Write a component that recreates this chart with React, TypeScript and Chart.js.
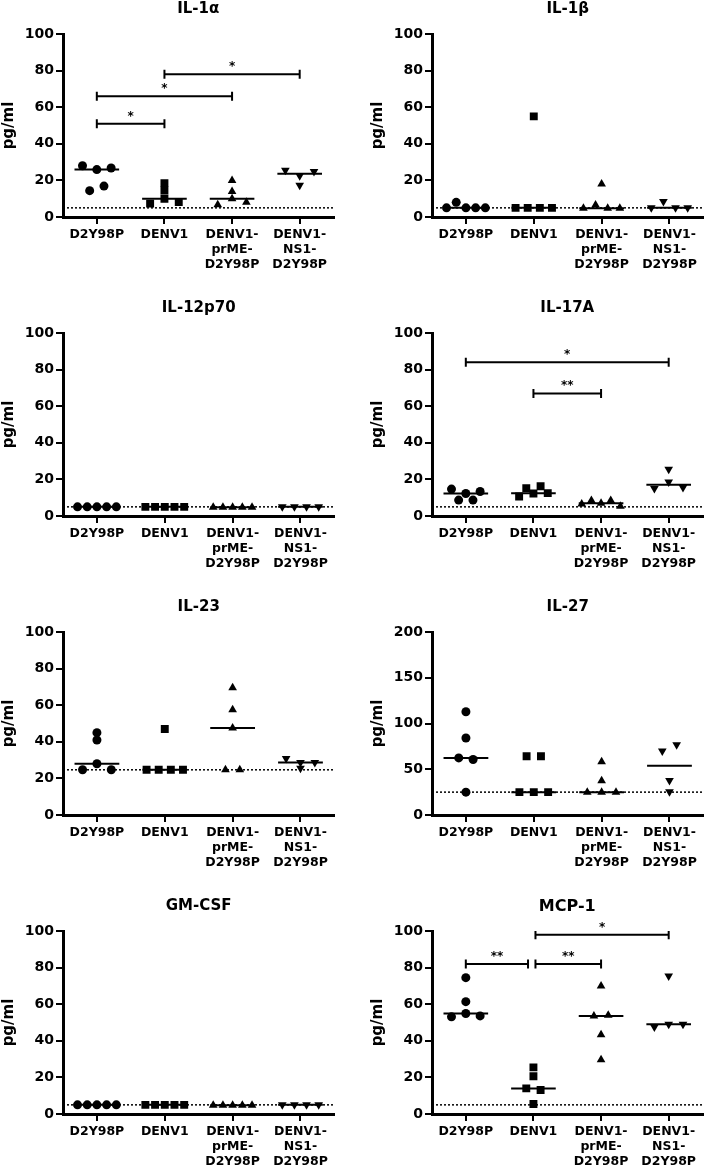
import React, { useEffect, useRef } from 'react';
import { Chart, registerables } from 'chart.js';

Chart.register(...registerables);

const FONT = '"DejaVu Sans", sans-serif';

// Category tick labels (multi-line)
const CATEGORY_LINES = [
  ['D2Y98P'],
  ['DENV1'],
  ['DENV1-', 'prME-', 'D2Y98P'],
  ['DENV1-', 'NS1-', 'D2Y98P'],
];

// ---------- IL-1α ----------
const il1a_D2Y98P = [28.0, 14.4, 25.9, 16.9, 26.8];
const il1a_DENV1 = [7.3, 18.5, 14.5, 10.0, 8.2];
const il1a_prME = [6.7, 19.9, 10.0, 14.0, 8.0];
const il1a_NS1 = [25.5, 22.5, 24.8, 17.3];
const il1a_limit = 5;
const il1a_sig = [
  { from: 1, to: 2, y: 51, label: '*' },
  { from: 1, to: 3, y: 66, label: '*' },
  { from: 2, to: 4, y: 78, label: '*' },
];

// ---------- IL-1β ----------
const il1b_D2Y98P = [5, 8, 5, 5, 5];
const il1b_DENV1 = [5, 5, 5, 5, 55];
const il1b_prME = [4.8, 6.5, 4.8, 4.8, 18];
const il1b_NS1 = [5, 8.5, 5, 5];
const il1b_limit = 5;
const il1b_sig: any[] = [];

// ---------- IL-12p70 ----------
const il12_D2Y98P = [5, 5, 5, 5, 5];
const il12_DENV1 = [5, 5, 5, 5, 5];
const il12_prME = [4.8, 4.8, 4.8, 4.8, 4.8];
const il12_NS1 = [5, 5, 5, 5];
const il12_limit = 5;
const il12_sig: any[] = [];

// ---------- IL-17A ----------
const il17_D2Y98P = [14.7, 8.7, 12.3, 13.4, 8.7];
const il17_DENV1 = [15.2, 10.7, 12.3, 16.3, 12.5];
const il17_prME = [6.6, 8.5, 6.9, 8.5, 5.3];
const il17_NS1 = [15.0, 25.5, 18.6, 15.6];
const il17_limit = 5;
const il17_sig = [
  { from: 1, to: 4, y: 84, label: '*' },
  { from: 2, to: 3, y: 67, label: '**' },
];

// ---------- IL-23 ----------
const il23_D2Y98P = [24.7, 45.0, 41.0, 28.0, 24.7];
const il23_DENV1 = [24.7, 24.7, 24.7, 24.7, 47.0];
const il23_prME = [69.5, 57.5, 47.5, 24.7, 24.7];
const il23_NS1 = [30.9, 28.7, 28.7, 25.5];
const il23_limit = 24.7;
const il23_sig: any[] = [];

// ---------- IL-27 ----------
const il27_D2Y98P = [112.8, 84.2, 62.4, 60.7, 25];
const il27_DENV1 = [64.2, 64.2, 25, 25, 25];
const il27_prME = [58.1, 37.4, 25, 25, 25];
const il27_NS1 = [69.9, 76.7, 37.7, 25.3];
const il27_limit = 25;
const il27_sig: any[] = [];

// ---------- GM-CSF ----------
const gmcsf_D2Y98P = [5, 5, 5, 5, 5];
const gmcsf_DENV1 = [5, 5, 5, 5, 5];
const gmcsf_prME = [4.8, 4.8, 4.8, 4.8, 4.8];
const gmcsf_NS1 = [5, 5, 5, 5];
const gmcsf_limit = 5;
const gmcsf_sig: any[] = [];

// ---------- MCP-1 ----------
const mcp1_D2Y98P = [74.5, 61.4, 53.1, 54.9, 53.6];
const mcp1_DENV1 = [25.5, 20.6, 14.0, 13.1, 5.5];
const mcp1_prME = [70.0, 53.6, 54.0, 43.3, 29.6];
const mcp1_NS1 = [75.4, 47.6, 49.1, 49.1];
const mcp1_limit = 5;
const mcp1_sig = [
  { from: 1, to: 1.92, y: 82, label: '**' },
  { from: 2.03, to: 3, y: 82, label: '**' },
  { from: 2.03, to: 4, y: 98, label: '*' },
];

// ---------- layout / style ----------
const CANVAS_W = 340;
const CANVAS_H = 299;
const COL_X = [0, 369];
const ROW_Y = [0, 299, 598, 897];
const PLOT_TOP = 34;
const PLOT_H = 183;
const Y_AXIS_W = 63;
const PX_PER_CAT = 274 / 4;
const MEDIAN_HALF = 0.33;

const MARKERS = [
  { style: 'circle', radius: 4.5, rotation: 0 },
  { style: 'rect', radius: 5.6, rotation: 0 },
  { style: 'triangle', radius: 5, rotation: 0 },
  { style: 'triangle', radius: 5, rotation: 180 },
];

const PANELS = [
  { title: 'IL-1α', titleSize: 15, yMax: 100, yStep: 20, limit: il1a_limit, groups: [il1a_D2Y98P, il1a_DENV1, il1a_prME, il1a_NS1], sig: il1a_sig, col: 0, row: 0 },
  { title: 'IL-1β', titleSize: 15, yMax: 100, yStep: 20, limit: il1b_limit, groups: [il1b_D2Y98P, il1b_DENV1, il1b_prME, il1b_NS1], sig: il1b_sig, col: 1, row: 0 },
  { title: 'IL-12p70', titleSize: 15, yMax: 100, yStep: 20, limit: il12_limit, groups: [il12_D2Y98P, il12_DENV1, il12_prME, il12_NS1], sig: il12_sig, col: 0, row: 1 },
  { title: 'IL-17A', titleSize: 15, yMax: 100, yStep: 20, limit: il17_limit, groups: [il17_D2Y98P, il17_DENV1, il17_prME, il17_NS1], sig: il17_sig, col: 1, row: 1 },
  { title: 'IL-23', titleSize: 15, yMax: 100, yStep: 20, limit: il23_limit, groups: [il23_D2Y98P, il23_DENV1, il23_prME, il23_NS1], sig: il23_sig, col: 0, row: 2 },
  { title: 'IL-27', titleSize: 15, yMax: 200, yStep: 50, limit: il27_limit, groups: [il27_D2Y98P, il27_DENV1, il27_prME, il27_NS1], sig: il27_sig, col: 1, row: 2 },
  { title: 'GM-CSF', titleSize: 15, yMax: 100, yStep: 20, limit: gmcsf_limit, groups: [gmcsf_D2Y98P, gmcsf_DENV1, gmcsf_prME, gmcsf_NS1], sig: gmcsf_sig, col: 0, row: 3 },
  { title: 'MCP-1', titleSize: 16, yMax: 100, yStep: 20, limit: mcp1_limit, groups: [mcp1_D2Y98P, mcp1_DENV1, mcp1_prME, mcp1_NS1], sig: mcp1_sig, col: 1, row: 3 },
];

function median(vals: number[]) {
  const s = [...vals].sort((a, b) => a - b);
  const n = s.length;
  return n % 2 ? s[(n - 1) / 2] : (s[n / 2 - 1] + s[n / 2]) / 2;
}

// Scatter-dot spreading: points at similar heights share a row, centred on the category
function spread(values: number[], center: number, yMax: number) {
  const pxPerUnit = PLOT_H / yMax;
  const rowTol = 6.8 / pxPerUnit;
  const order = values.map((_, i) => i).sort((a, b) => values[b] - values[a]);
  const rows: number[][] = [];
  let cur: number[] = [];
  let start = 0;
  order.forEach((i) => {
    if (cur.length && start - values[i] <= rowTol) cur.push(i);
    else {
      if (cur.length) rows.push(cur);
      cur = [i];
      start = values[i];
    }
  });
  if (cur.length) rows.push(cur);
  const out = values.map((v) => ({ x: center, y: v }));
  rows.forEach((r) => {
    r.sort((a, b) => a - b);
    const n = r.length;
    const slot = Math.min(14.5, 49 / n) / PX_PER_CAT;
    r.forEach((i, k) => {
      out[i].x = center + (k - (n - 1) / 2) * slot;
    });
  });
  return out;
}

const sigPlugin = {
  id: 'sigLabels',
  afterDatasetsDraw(chart: any, _args: any, opts: any) {
    const items = (opts && opts.items) || [];
    const { ctx, scales } = chart;
    ctx.save();
    ctx.fillStyle = '#000';
    ctx.font = `bold 12px ${FONT}`;
    ctx.textAlign = 'center';
    ctx.textBaseline = 'alphabetic';
    items.forEach((b: any) => {
      const x = scales.x.getPixelForValue((b.from + b.to) / 2);
      const y = scales.y.getPixelForValue(b.y);
      ctx.fillText(b.label, x, y - 4);
    });
    ctx.restore();
  },
};

function Panel({ cfg }: { cfg: any }) {
  const ref = useRef<HTMLCanvasElement>(null);
  useEffect(() => {
    const datasets: any[] = [];
    cfg.groups.forEach((vals: number[], gi: number) => {
      const m = MARKERS[gi];
      datasets.push({
        type: 'scatter',
        data: spread(vals, gi + 1, cfg.yMax),
        pointStyle: m.style,
        pointRadius: m.radius,
        pointRotation: m.rotation,
        pointBackgroundColor: '#000',
        pointBorderColor: '#000',
        pointBorderWidth: 0,
        showLine: false,
      });
      const med = median(vals);
      datasets.push({
        type: 'line',
        data: [
          { x: gi + 1 - MEDIAN_HALF, y: med },
          { x: gi + 1 + MEDIAN_HALF, y: med },
        ],
        borderColor: '#000',
        borderWidth: 2,
        pointRadius: 0,
        fill: false,
      });
    });
    datasets.push({
      type: 'line',
      data: [
        { x: 0.5, y: cfg.limit },
        { x: 4.5, y: cfg.limit },
      ],
      borderColor: '#000',
      borderWidth: 1.5,
      borderDash: [2, 2],
      pointRadius: 0,
      fill: false,
    });
    cfg.sig.forEach((b: any) => {
      datasets.push({
        type: 'line',
        data: [
          { x: b.from, y: b.y },
          { x: b.to, y: b.y },
        ],
        borderColor: '#000',
        borderWidth: 2,
        pointStyle: 'line',
        pointRotation: 90,
        pointRadius: 4.5,
        pointBorderWidth: 2,
        pointBorderColor: '#000',
        fill: false,
      });
    });

    const axisGrid = {
      display: true,
      drawOnChartArea: false,
      drawTicks: true,
      tickLength: 7,
      lineWidth: 2,
      color: '#000',
    };
    const axisBorder = { display: true, color: '#000', width: 3 };

    const chart = new Chart(ref.current as HTMLCanvasElement, {
      type: 'scatter',
      data: { datasets },
      options: {
        responsive: false,
        animation: false,
        events: [],
        layout: { padding: { left: 0, right: 3, top: 0, bottom: 0 } },
        plugins: {
          legend: { display: false },
          tooltip: { enabled: false },
          title: {
            display: true,
            text: cfg.title,
            fullSize: false,
            color: '#000',
            font: { family: FONT, size: cfg.titleSize, weight: 'bold', lineHeight: 1.2 },
            padding: { top: 0, bottom: PLOT_TOP - cfg.titleSize * 1.2 },
          },
          sigLabels: { items: cfg.sig },
        } as any,
        scales: {
          x: {
            type: 'linear',
            min: 0.5,
            max: 4.5,
            afterBuildTicks: (s: any) => {
              s.ticks = CATEGORY_LINES.map((_, i) => ({ value: i + 1 }));
            },
            afterFit: (s: any) => {
              s.height = CANVAS_H - PLOT_TOP - PLOT_H;
            },
            ticks: {
              autoSkip: false,
              maxRotation: 0,
              minRotation: 0,
              padding: 3,
              color: '#000',
              font: { family: FONT, size: 12.5, weight: 'bold', lineHeight: 1.2 },
              callback: (v: any) => CATEGORY_LINES[Math.round(Number(v)) - 1] || '',
            },
            grid: axisGrid,
            border: axisBorder,
          },
          y: {
            type: 'linear',
            min: 0,
            max: cfg.yMax,
            afterFit: (s: any) => {
              s.width = Y_AXIS_W;
            },
            ticks: {
              stepSize: cfg.yStep,
              padding: 2,
              color: '#000',
              font: { family: FONT, size: 14, weight: 'bold' },
            },
            grid: axisGrid,
            border: axisBorder,
            title: {
              display: true,
              text: 'pg/ml',
              color: '#000',
              font: { family: FONT, size: 15, weight: 'bold' },
              padding: { top: 0, bottom: 0 },
            },
          },
        } as any,
      } as any,
      plugins: [sigPlugin as any],
    } as any);
    return () => chart.destroy();
  }, [cfg]);

  return (
    <canvas
      ref={ref}
      width={CANVAS_W}
      height={CANVAS_H}
      style={{
        position: 'absolute',
        left: COL_X[cfg.col],
        top: ROW_Y[cfg.row],
        width: CANVAS_W,
        height: CANVAS_H,
      }}
    />
  );
}

export default function App() {
  return (
    <div
      style={{
        position: 'absolute',
        left: 0,
        top: 0,
        width: 710,
        height: 1165,
        overflow: 'hidden',
        background: '#fff',
      }}
    >
      {PANELS.map((p) => (
        <Panel key={p.title} cfg={p} />
      ))}
    </div>
  );
}
